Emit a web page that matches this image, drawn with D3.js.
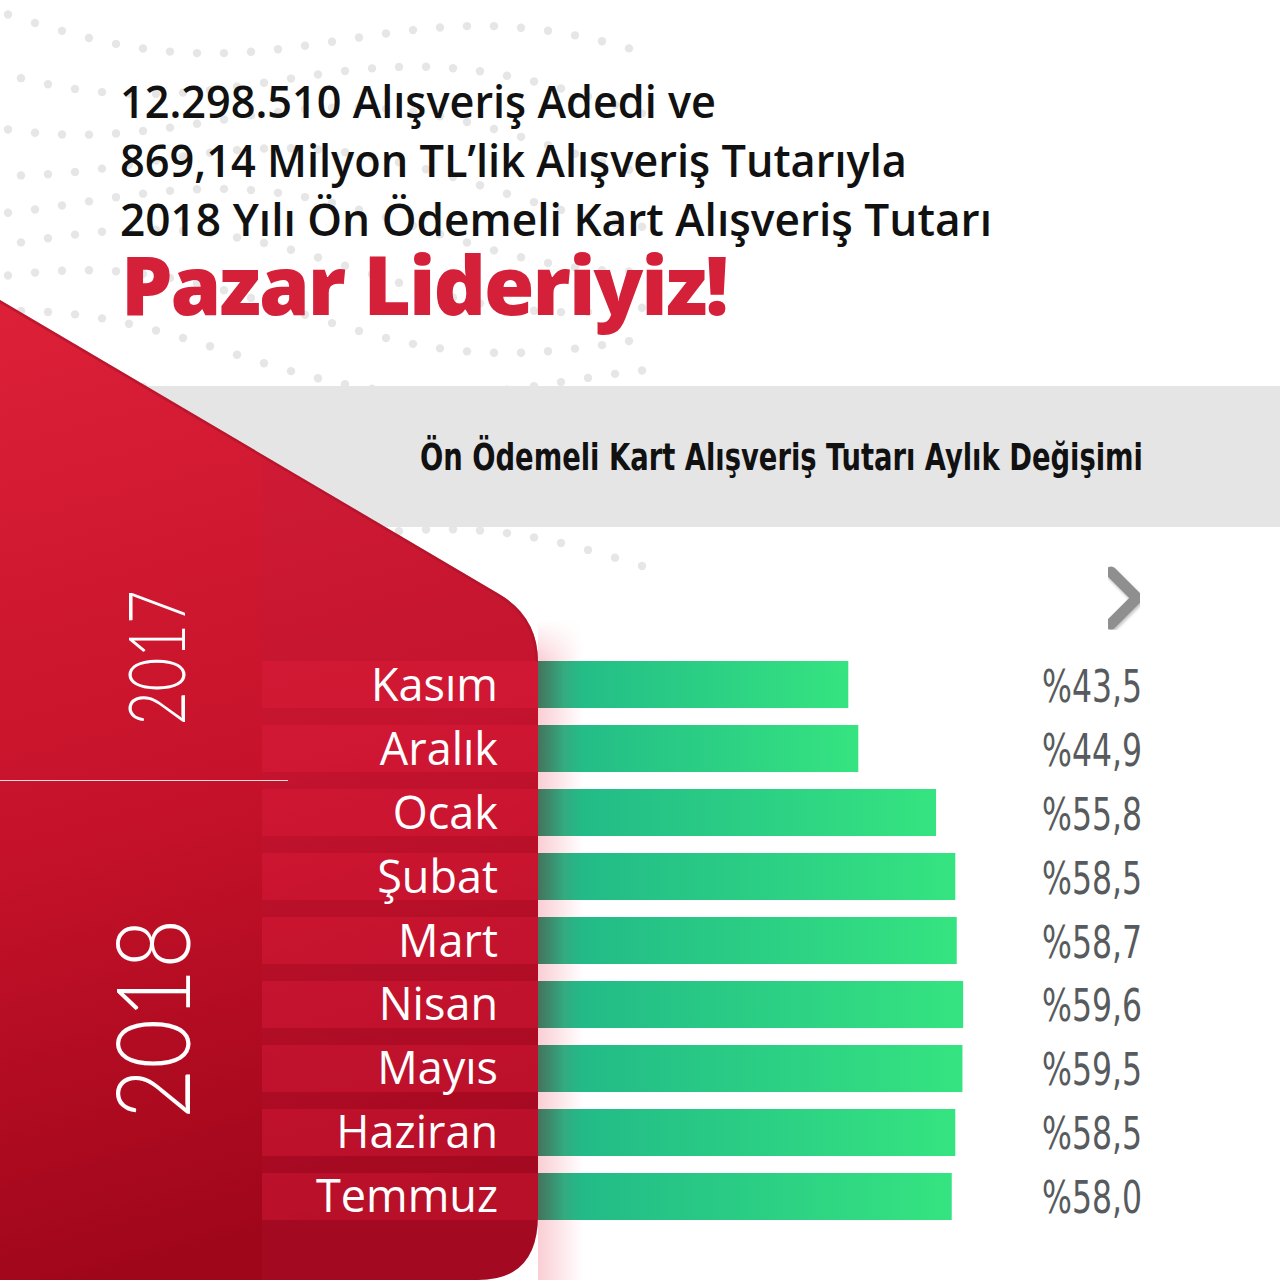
<!DOCTYPE html>
<html>
<head>
<meta charset="utf-8">
<script src="https://d3js.org/d3.v7.min.js"></script>
<style>
  body { margin: 0; background: #fff; }
  svg { display: block; }
</style>
</head>
<body>
<script>
// ---- data ----
var months = ["Kasım", "Aralık", "Ocak", "Şubat", "Mart", "Nisan", "Mayıs", "Haziran", "Temmuz"];
var monthYear = ["2017", "2017", "2018", "2018", "2018", "2018", "2018", "2018", "2018"];
var values = [43.5, 44.9, 55.8, 58.5, 58.7, 59.6, 59.5, 58.5, 58.0];
var years = ["2017", "2018"];
var titleLines = [
  "12.298.510 Alışveriş Adedi ve",
  "869,14 Milyon TL’lik Alışveriş Tutarıyla",
  "2018 Yılı Ön Ödemeli Kart Alışveriş Tutarı"
];
var headline = "Pazar Lideriyiz!";
var subtitle = "Ön Ödemeli Kart Alışveriş Tutarı Aylık Değişimi";

var width = 1280, height = 1280;
var fmt = function(v) { return "%" + d3.format(".1f")(v).replace(".", ","); };

var svg = d3.select("body").append("svg")
  .attr("width", width)
  .attr("height", height);

var defs = svg.append("defs");

var redGrad = defs.append("linearGradient").attr("id", "redGrad")
  .attr("x1", 0).attr("y1", 0).attr("x2", 0.15).attr("y2", 1);
redGrad.append("stop").attr("offset", "0%").attr("stop-color", "#dc2038");
redGrad.append("stop").attr("offset", "55%").attr("stop-color", "#c5122a");
redGrad.append("stop").attr("offset", "100%").attr("stop-color", "#a0061a");

var greenGrad = defs.append("linearGradient").attr("id", "greenGrad")
  .attr("x1", 0).attr("y1", 0).attr("x2", 1).attr("y2", 0);
greenGrad.append("stop").attr("offset", "0%").attr("stop-color", "#1fb489");
greenGrad.append("stop").attr("offset", "100%").attr("stop-color", "#35e480");

// soft shadow to the right of the panel
var pinkGrad = defs.append("linearGradient").attr("id", "pinkGrad")
  .attr("x1", 0).attr("y1", 0).attr("x2", 1).attr("y2", 0);
pinkGrad.append("stop").attr("offset", "0%").attr("stop-color", "#e8203e").attr("stop-opacity", 0.22);
pinkGrad.append("stop").attr("offset", "100%").attr("stop-color", "#e8203e").attr("stop-opacity", 0);

var fadeMask = defs.append("linearGradient").attr("id", "fadeV")
  .attr("x1", 0).attr("y1", 0).attr("x2", 0).attr("y2", 1);
fadeMask.append("stop").attr("offset", "0%").attr("stop-color", "#fff").attr("stop-opacity", 0);
fadeMask.append("stop").attr("offset", "6%").attr("stop-color", "#fff").attr("stop-opacity", 1);
fadeMask.append("stop").attr("offset", "100%").attr("stop-color", "#fff").attr("stop-opacity", 1);
defs.append("mask").attr("id", "topFade")
  .attr("maskUnits", "userSpaceOnUse")
  .attr("x", 530).attr("y", 620).attr("width", 80).attr("height", 660)
  .append("rect")
  .attr("x", 530).attr("y", 620).attr("width", 80).attr("height", 660)
  .attr("fill", "url(#fadeV)");

var darkGrad = defs.append("linearGradient").attr("id", "darkGrad")
  .attr("x1", 0).attr("y1", 0).attr("x2", 1).attr("y2", 0);
darkGrad.append("stop").attr("offset", "0%").attr("stop-color", "#0a3d2a").attr("stop-opacity", 0.35);
darkGrad.append("stop").attr("offset", "100%").attr("stop-color", "#0a3d2a").attr("stop-opacity", 0);

var chevShadow = defs.append("filter").attr("id", "chevShadow");
chevShadow.append("feDropShadow")
  .attr("dx", 1).attr("dy", 2).attr("stdDeviation", 1.5)
  .attr("flood-color", "#000").attr("flood-opacity", 0.25);

// ---- background dots (decoration) ----
var dots = svg.append("g").attr("fill", "#e6e6e6");
d3.range(0, 12).forEach(function(k) {
  d3.range(0, 24).forEach(function(i) {
    var x = 8 + i * 27 + (k % 2) * 13;
    var y = 12 + k * 46 + 26 * Math.sin(x / 110 + k * 0.6) + x * 0.08;
    if (x < 660 && y < 600) {
      dots.append("circle").attr("cx", x).attr("cy", y).attr("r", 4.2);
    }
  });
});

// ---- grey band ----
svg.append("rect")
  .attr("x", 0).attr("y", 386)
  .attr("width", width).attr("height", 141)
  .attr("fill", "#e5e5e5");

// ---- scales ----
var y = d3.scaleBand()
  .domain(months)
  .range([661, 1220])
  .paddingInner(0.2656)
  .paddingOuter(0);

var x = d3.scaleLinear()
  .domain([0, 60])
  .range([538, 966]);

// ---- bars (under the red panel) ----
var bars = svg.append("g");
bars.selectAll("rect.bar")
  .data(values)
  .enter().append("rect")
  .attr("class", "bar")
  .attr("x", x(0) - 20)
  .attr("y", function(d, i) { return y(months[i]); })
  .attr("width", function(d) { return x(d) - x(0) + 20; })
  .attr("height", y.bandwidth())
  .attr("fill", "url(#greenGrad)");

bars.selectAll("rect.shade")
  .data(values)
  .enter().append("rect")
  .attr("class", "shade")
  .attr("x", x(0))
  .attr("y", function(d, i) { return y(months[i]); })
  .attr("width", 26)
  .attr("height", y.bandwidth())
  .attr("fill", "url(#darkGrad)");

svg.append("rect")
  .attr("x", 538).attr("y", 620)
  .attr("width", 45).attr("height", 660)
  .attr("fill", "url(#pinkGrad)")
  .attr("mask", "url(#topFade)");

// ---- red panel ----
var panelPath = "M0,300 L499,594 Q538,617 538,662 L538,1215 Q538,1280 478,1280 L0,1280 Z";
defs.append("clipPath").attr("id", "panelClip")
  .append("path").attr("d", panelPath);

svg.append("path")
  .attr("d", panelPath)
  .attr("fill", "url(#redGrad)");

var panel = svg.append("g").attr("clip-path", "url(#panelClip)");

// right column, slightly different shade
panel.append("rect")
  .attr("x", 262).attr("y", 300)
  .attr("width", 290).attr("height", 980)
  .attr("fill", "#b51a45").attr("opacity", 0.14);

// darker edge line on the diagonal
panel.append("path")
  .attr("d", "M0,300 L499,594 Q538,617 538,662")
  .attr("fill", "none")
  .attr("stroke", "#a8142b")
  .attr("stroke-width", 5)
  .attr("opacity", 0.6);

// row bands
panel.append("g").selectAll("rect")
  .data(months)
  .enter().append("rect")
  .attr("x", 262)
  .attr("y", function(d) { return y(d); })
  .attr("width", 290)
  .attr("height", y.bandwidth())
  .attr("fill", "#e8203e")
  .attr("opacity", 0.32);

// month labels
svg.append("g").selectAll("text")
  .data(months)
  .enter().append("text")
  .attr("x", 498)
  .attr("y", function(d) { return y(d) + y.bandwidth() / 2 + 16; })
  .attr("text-anchor", "end")
  .attr("fill", "#fff")
  .style("font-family", "'Open Sans', 'Noto Sans', sans-serif")
  .style("font-size", "45px")
  .text(function(d) { return d; });

// year divider and labels
var lastOf2017 = months[monthYear.lastIndexOf("2017")];
var dividerY = y(lastOf2017) + y.bandwidth() + (y.step() - y.bandwidth()) / 2;
svg.append("line")
  .attr("x1", 0).attr("x2", 288)
  .attr("y1", dividerY).attr("y2", dividerY)
  .attr("stroke", "#fff")
  .attr("stroke-width", 1.2)
  .attr("opacity", 0.85);

var yearTop = 535, yearBottom = 1257;
var yearCenters = [(yearTop + dividerY) / 2, (dividerY + yearBottom) / 2];
var yearSize = [78, 102];
var yearLen = [135, 200];
var yearBase = [185, 190];
svg.append("g").selectAll("text")
  .data(years)
  .enter().append("text")
  .attr("transform", function(d, i) {
    return "translate(" + yearBase[i] + "," + yearCenters[i] + ") rotate(-90)";
  })
  .attr("text-anchor", "middle")
  .attr("textLength", function(d, i) { return yearLen[i]; })
  .attr("lengthAdjust", "spacingAndGlyphs")
  .attr("fill", "#fff")
  .style("font-family", "Lato, 'Open Sans', sans-serif")
  .style("font-weight", 300)
  .style("font-size", function(d, i) { return yearSize[i] + "px"; })
  .text(function(d) { return d; });

// value labels
svg.append("g").selectAll("text")
  .data(values)
  .enter().append("text")
  .attr("x", 1142)
  .attr("y", function(d, i) { return y(months[i]) + y.bandwidth() / 2 + 17; })
  .attr("text-anchor", "end")
  .attr("textLength", 100)
  .attr("lengthAdjust", "spacingAndGlyphs")
  .attr("fill", "#575b5d")
  .style("font-family", "'Liberation Sans Narrow', 'DejaVu Sans Condensed', sans-serif")
  .style("font-size", "45px")
  .text(function(d) { return fmt(d); });

// chevron
svg.append("path")
  .attr("d", "M1111,572 L1137,598 L1111,624")
  .attr("fill", "none")
  .attr("stroke", "#8f8f8f")
  .attr("stroke-width", 11)
  .attr("stroke-linecap", "round")
  .attr("stroke-linejoin", "round")
  .attr("filter", "url(#chevShadow)");

// ---- titles ----
var titleLens = [596, 787, 872];
svg.append("g").selectAll("text")
  .data(titleLines)
  .enter().append("text")
  .attr("x", 120)
  .attr("y", function(d, i) { return 118 + i * 59; })
  .attr("textLength", function(d, i) { return titleLens[i]; })
  .attr("lengthAdjust", "spacingAndGlyphs")
  .attr("fill", "#111")
  .style("font-family", "'Open Sans', 'Noto Sans', sans-serif")
  .style("font-weight", 600)
  .style("font-size", "45px")
  .text(function(d) { return d; });

svg.append("text")
  .attr("x", 121)
  .attr("y", 315)
  .attr("textLength", 606)
  .attr("lengthAdjust", "spacingAndGlyphs")
  .attr("fill", "#d42039")
  .style("font-family", "'Open Sans', Roboto, sans-serif")
  .style("font-weight", 800)
  .style("font-size", "82px")
  .style("letter-spacing", "-2px")
  .text(headline);

svg.append("text")
  .attr("x", 1143)
  .attr("y", 470)
  .attr("text-anchor", "end")
  .attr("textLength", 723)
  .attr("lengthAdjust", "spacingAndGlyphs")
  .attr("fill", "#111")
  .style("font-family", "'Liberation Sans Narrow', 'DejaVu Sans Condensed', sans-serif")
  .style("font-weight", 700)
  .style("font-size", "38px")
  .text(subtitle);
</script>
</body>
</html>
